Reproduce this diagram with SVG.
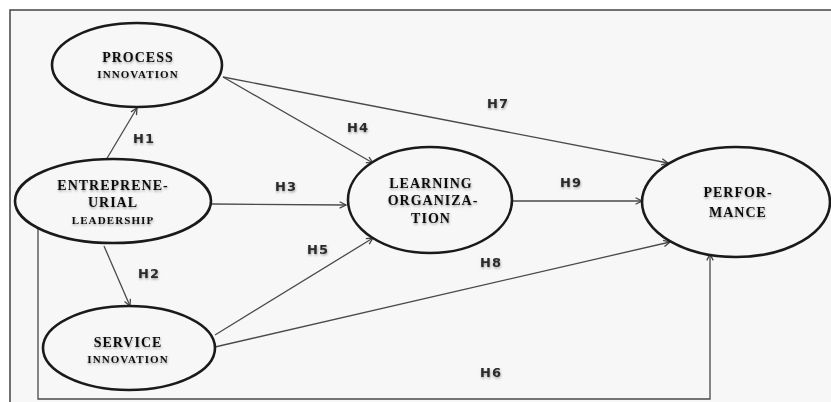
<svg xmlns="http://www.w3.org/2000/svg" width="831" height="402" viewBox="0 0 831 402">
<style>
.bg{fill:#f7f7f7}
.frame{fill:none;stroke:#444;stroke-width:1.5}
.node{fill:#f7f7f7;stroke:#1a1a1a;stroke-width:2.6}
.t{font-family:"Liberation Serif",serif;font-weight:bold;fill:#111;text-anchor:middle}
.big{font-size:14px;letter-spacing:1px}
.small{font-size:11px;letter-spacing:1.1px}
.lbl{font-family:"DejaVu Sans",sans-serif;font-weight:bold;font-size:13px;letter-spacing:1px;fill:#2a2a2a}
.c{fill:none;stroke:#4a4a4a;stroke-width:1.3}
</style>
<defs>
<marker id="arr" viewBox="0 0 10 10" refX="9" refY="5" markerWidth="8" markerHeight="8" orient="auto" markerUnits="userSpaceOnUse">
<path d="M1,1 L9,5 L1,9" fill="none" stroke="#444" stroke-width="1.6"/>
</marker>
<filter id="sh" x="-10%" y="-10%" width="120%" height="130%">
<feDropShadow dx="0.5" dy="1.5" stdDeviation="1" flood-color="#000" flood-opacity="0.35"/>
</filter>
</defs>
<rect x="10" y="10" width="821" height="392" class="bg"/>
<path d="M10,402 L10,10 L831,10" class="frame"/>
<g id="connectors">
<line class="c" x1="106" y1="160" x2="137" y2="108" marker-end="url(#arr)"/>
<line class="c" x1="104" y1="246" x2="130" y2="306" marker-end="url(#arr)"/>
<line class="c" x1="212" y1="204" x2="346" y2="205" marker-end="url(#arr)"/>
<line class="c" x1="223" y1="77" x2="373" y2="163" marker-end="url(#arr)"/>
<line class="c" x1="223" y1="77" x2="668" y2="163" marker-end="url(#arr)"/>
<line class="c" x1="215" y1="335" x2="373" y2="238" marker-end="url(#arr)"/>
<line class="c" x1="215" y1="347" x2="670" y2="242" marker-end="url(#arr)"/>
<line class="c" x1="512" y1="201" x2="642" y2="201" marker-end="url(#arr)"/>
<polyline class="c" points="38,229 38,399 710,399 710,254" marker-end="url(#arr)"/>
</g>
<g id="labels" filter="url(#sh)">
<text class="lbl" x="133" y="143">H1</text>
<text class="lbl" x="138" y="278">H2</text>
<text class="lbl" x="275" y="191">H3</text>
<text class="lbl" x="347" y="132">H4</text>
<text class="lbl" x="307" y="254">H5</text>
<text class="lbl" x="480" y="377">H6</text>
<text class="lbl" x="487" y="108">H7</text>
<text class="lbl" x="480" y="267">H8</text>
<text class="lbl" x="560" y="187">H9</text>
</g>
<g id="process-innovation">
<ellipse class="node" cx="137" cy="65" rx="85" ry="42"/>
<g filter="url(#sh)">
<text class="t big" x="138" y="62">PROCESS</text>
<text class="t small" x="138" y="78">INNOVATION</text>
</g>
</g>
<g id="entrepreneurial-leadership">
<ellipse class="node" cx="113" cy="201" rx="98" ry="42"/>
<g filter="url(#sh)">
<text class="t big" x="113" y="190">ENTREPRENE-</text>
<text class="t big" x="113" y="207">URIAL</text>
<text class="t small" x="113" y="224">LEADERSHIP</text>
</g>
</g>
<g id="service-innovation">
<ellipse class="node" cx="129" cy="348" rx="86" ry="42"/>
<g filter="url(#sh)">
<text class="t big" x="128" y="347">SERVICE</text>
<text class="t small" x="128" y="363">INNOVATION</text>
</g>
</g>
<g id="learning-organization">
<ellipse class="node" cx="430" cy="200" rx="82" ry="53"/>
<g filter="url(#sh)">
<text class="t big" x="431" y="188">LEARNING</text>
<text class="t big" x="433" y="205">ORGANIZA-</text>
<text class="t big" x="431" y="223">TION</text>
</g>
</g>
<g id="performance">
<ellipse class="node" cx="736" cy="202" rx="94" ry="55"/>
<g filter="url(#sh)">
<text class="t big" x="738" y="197">PERFOR-</text>
<text class="t big" x="738" y="217">MANCE</text>
</g>
</g>
</svg>
